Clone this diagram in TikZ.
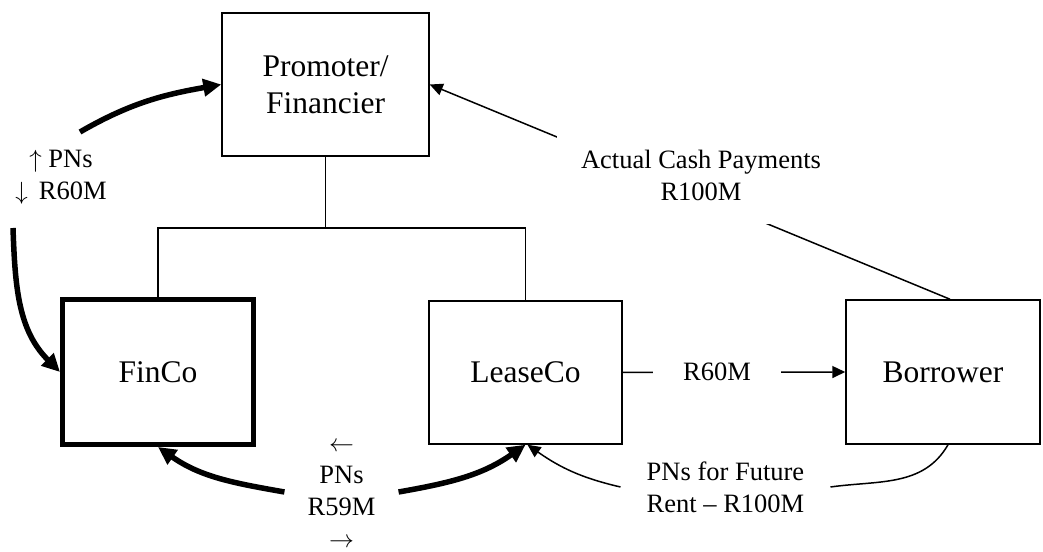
\documentclass[tikz,border=0pt]{standalone}
\usepackage{fontspec}
\setmainfont{Liberation Serif}
\usetikzlibrary{arrows.meta}

\tikzset{
  party/.style={draw, line width=1.5pt, minimum width=193pt, minimum height=143pt,
    inner sep=0pt, align=center, font=\fontsize{31.5}{37}\selectfont},
  tag/.style={align=center, inner sep=0pt, font=\fontsize{26.5}{32}\selectfont},
  bigarrow/.style={line width=5.5pt, -{Triangle[length=18pt,width=17pt]}},
  smallarrow/.style={line width=1.5pt, -{Triangle[length=13pt,width=12pt]}},
}

\begin{document}
\begin{tikzpicture}[x=1pt,y=1pt]
\useasboundingbox (0,0) rectangle (1043,551);
\path (325.5,466.5) node[party, minimum width=207pt] (prom) {Promoter/\\Financier}
      (158,179) node[party, line width=5pt, minimum width=191pt, minimum height=145pt] (finco) {FinCo}
      (525.5,178.5) node[party] (lease) {LeaseCo}
      (943,179) node[party, minimum width=194pt, minimum height=144pt] (borrower) {Borrower}
      (61,373.5) node[tag] (pnsleft) {$\uparrow$\ PNs\\$\downarrow$\ \,R60M}
      (341.5,56) node[tag, inner xsep=23pt] (pnsbottom) {$\leftarrow$\\PNs\\R59M\\$\rightarrow$}
      (725.5,64) node[tag, inner xsep=26pt] (rent) {PNs for Future\\Rent – R100M}
      (80,419) coordinate (up)
      (13,323) coordinate (down)
      (0,323) coordinate (bar);

% ownership
\draw[line width=1.5pt] (prom.south) -- (prom.south |- bar);
\draw[line width=1.5pt] (finco.north) |- (lease.north |- bar) -- (lease.north);

% PNs and cash between FinCo, LeaseCo and the promoter
\draw[bigarrow] (up) to[out=30,in=190] (prom.west);
\draw[bigarrow] (down) to[out=-88,in=135] (finco.west);
\draw[bigarrow] ([yshift=3pt]pnsbottom.west) to[out=170,in=-35] (finco.south);
\draw[bigarrow] ([yshift=3pt]pnsbottom.east) to[out=10,in=215] (lease.south);

% borrower
\draw[smallarrow] (lease.east) -- node[tag, pos=0.424, fill=white, inner xsep=30pt, inner ysep=4pt] (r60m) {R60M} (borrower.west);
\draw[line width=1.5pt] ([xshift=5pt]borrower.south) to[out=-120,in=8] (rent.east);
\draw[smallarrow] (rent.west) to[out=167,in=-35] ([xshift=2pt]lease.south);
\draw[smallarrow] ([xshift=7pt]borrower.north) -- (prom.east);
\node[tag, fill=white, inner sep=24pt] (cash) at (701,376) {Actual Cash Payments\\R100M};
\end{tikzpicture}
\end{document}
